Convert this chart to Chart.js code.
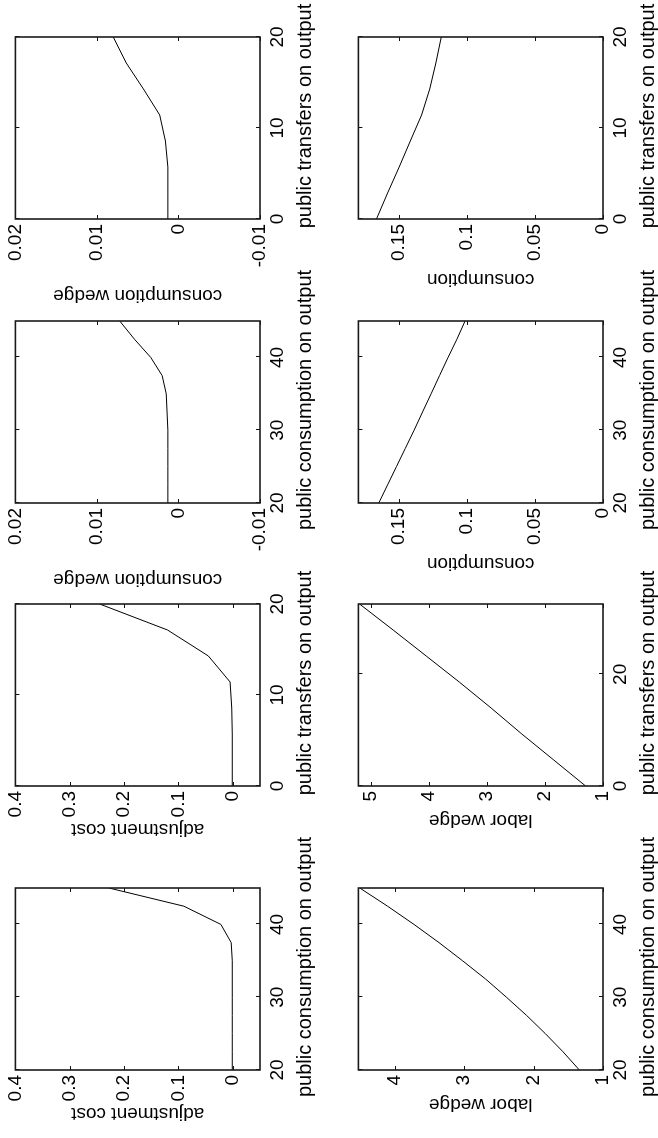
<!DOCTYPE html>
<html>
<head>
<meta charset="utf-8">
<script src="https://cdn.jsdelivr.net/npm/chart.js@4.4.1/dist/chart.umd.min.js"></script>
<style>
  html, body { margin: 0; padding: 0; background: #fff; overflow: hidden; }
  #page { position: relative; width: 658px; height: 1138px; overflow: hidden; background: #fff; }
  /* the figure is laid out landscape and turned a quarter turn counter-clockwise */
  #fig { position: absolute; left: 0; top: 0; width: 1138px; height: 658px;
         transform-origin: 0 0; transform: translateY(1138px) rotate(-90deg); }
  #fig canvas { position: absolute; }
</style>
</head>
<body>
<div id="page"><div id="fig"></div></div>
<script>
'use strict'

// x values
const govCons = [20, 22.5, 25, 27.5, 30, 32.5, 35, 37.5, 40, 42.5, 45];
const transfers = [0, 2.86, 5.71, 8.57, 11.43, 14.29, 17.14, 20];
const transfersLabor = [0, 4.66, 9.31, 13.97, 18.63, 23.29, 27.94, 32.6];

// series
const adjCostG = [0.001, 0.001, 0.001, 0.001, 0.001, 0.001, 0.001, 0.003, 0.022, 0.09, 0.228];
const adjCostT = [0.001, 0.001, 0.001, 0.002, 0.005, 0.045, 0.12, 0.245];
const wedgeG = [0.0013, 0.0013, 0.0013, 0.0013, 0.0013, 0.0014, 0.0015, 0.002, 0.0034, 0.0054, 0.0072];
const wedgeT = [0.0013, 0.0013, 0.0013, 0.0016, 0.0023, 0.0043, 0.0064, 0.008];
const laborG = [1.34, 1.575, 1.83, 2.1, 2.39, 2.69, 3.02, 3.36, 3.72, 4.1, 4.5];
const laborT = [1.3, 1.85, 2.4, 2.93, 3.48, 4.05, 4.62, 5.2];
const consG = [0.165, 0.1585, 0.152, 0.1455, 0.139, 0.1328, 0.1265, 0.1203, 0.114, 0.1075, 0.1015];
const consT = [0.1667, 0.1585, 0.15, 0.1418, 0.1335, 0.1275, 0.123, 0.119];

// tick labels
const gTicks = [20, 30, 40];
const tTicks = [0, 10, 20];
const tLaborTicks = [0, 20];
const adjTicks = [0, 0.1, 0.2, 0.3, 0.4];
const wedgeTicks = [-0.01, 0, 0.01, 0.02];
const laborGTicks = [1, 2, 3, 4];
const laborTTicks = [1, 2, 3, 4, 5];
const consTicks = [0, 0.05, 0.1, 0.15];

const xTitleG = 'public consumption on output';
const xTitleT = 'public transfers on output';

const FONT = '"Liberation Sans", Arial, Helvetica, sans-serif';
const FONT_SIZE = 19;
const X_TITLE_SIZE = 20;
const BOX_W = 182, BOX_H = 247;
const colLeft = [68, 352, 635, 919];
const rowTop = [13, 356];
const PAD_T = 14, PAD_R = 60, X_AXIS_H = 56;

const panels = [
    { col: 0, row: 0, xs: govCons, ys: adjCostG, xMin: 20, xMax: 45, xTicks: gTicks, xTitle: xTitleG,
      yMin: -0.05, yMax: 0.4, yTicks: adjTicks, yTitle: 'adjustment cost', yAxisW: 55 },
    { col: 1, row: 0, xs: transfers, ys: adjCostT, xMin: 0, xMax: 20, xTicks: tTicks, xTitle: xTitleT,
      yMin: -0.05, yMax: 0.4, yTicks: adjTicks, yTitle: 'adjustment cost', yAxisW: 55 },
    { col: 2, row: 0, xs: govCons, ys: wedgeG, xMin: 20, xMax: 45, xTicks: gTicks, xTitle: xTitleG,
      yMin: -0.01, yMax: 0.02, yTicks: wedgeTicks, yTitle: 'consumption wedge', yAxisW: 88 },
    { col: 3, row: 0, xs: transfers, ys: wedgeT, xMin: 0, xMax: 20, xTicks: tTicks, xTitle: xTitleT,
      yMin: -0.01, yMax: 0.02, yTicks: wedgeTicks, yTitle: 'consumption wedge', yAxisW: 88 },
    { col: 0, row: 1, xs: govCons, ys: laborG, xMin: 20, xMax: 45, xTicks: gTicks, xTitle: xTitleG,
      yMin: 1, yMax: 4.52, yTicks: laborGTicks, yTitle: 'labor wedge', yAxisW: 46 },
    { col: 1, row: 1, xs: transfersLabor, ys: laborT, xMin: 0, xMax: 32.6, xTicks: tLaborTicks, xTitle: xTitleT,
      yMin: 1, yMax: 5.22, yTicks: laborTTicks, yTitle: 'labor wedge', yAxisW: 46 },
    { col: 2, row: 1, xs: govCons, ys: consG, xMin: 20, xMax: 45, xTicks: gTicks, xTitle: xTitleG,
      yMin: 0, yMax: 0.18, yTicks: consTicks, yTitle: 'consumption', yAxisW: 72 },
    { col: 3, row: 1, xs: transfers, ys: consT, xMin: 0, xMax: 20, xTicks: tTicks, xTitle: xTitleT,
      yMin: 0, yMax: 0.18, yTicks: consTicks, yTitle: 'consumption', yAxisW: 72 }
];

// box round the plot area with short inward ticks on all four sides
const framePlugin = {
    id: 'frame',
    afterDatasetsDraw(chart) {
        const { ctx, chartArea: a, scales } = chart;
        const len = 4;
        ctx.save();
        ctx.strokeStyle = '#111';
        ctx.lineWidth = 1;
        ctx.beginPath();
        scales.x.ticks.forEach(t => {
            const px = Math.round(scales.x.getPixelForValue(t.value)) + 0.5;
            ctx.moveTo(px, a.bottom); ctx.lineTo(px, a.bottom - len);
            ctx.moveTo(px, a.top); ctx.lineTo(px, a.top + len);
        });
        scales.y.ticks.forEach(t => {
            const py = Math.round(scales.y.getPixelForValue(t.value)) + 0.5;
            ctx.moveTo(a.left, py); ctx.lineTo(a.left + len, py);
            ctx.moveTo(a.right, py); ctx.lineTo(a.right - len, py);
        });
        ctx.stroke();
        ctx.lineWidth = 1.6;
        ctx.strokeStyle = '#1a1a1a';
        ctx.strokeRect(a.left, a.top, a.right - a.left, a.bottom - a.top);
        ctx.restore();
    }
};

// x axis title, drawn by hand so it is not squeezed to the plot width
const xTitlePlugin = {
    id: 'xTitle',
    afterDraw(chart, args, opts) {
        const { ctx, chartArea: a } = chart;
        ctx.save();
        ctx.font = X_TITLE_SIZE + 'px ' + FONT;
        ctx.fillStyle = '#000';
        ctx.textAlign = 'center';
        ctx.textBaseline = 'middle';
        ctx.fillText(opts.text, (a.left + a.right) / 2 + 12, a.bottom + 45);
        ctx.restore();
    }
};

const fig = document.getElementById('fig');

panels.forEach(p => {
    const canvas = document.createElement('canvas');
    canvas.width = p.yAxisW + BOX_W + PAD_R;
    canvas.height = PAD_T + BOX_H + X_AXIS_H;
    canvas.style.left = (colLeft[p.col] - p.yAxisW) + 'px';
    canvas.style.top = (rowTop[p.row] - PAD_T) + 'px';
    fig.appendChild(canvas);

    const font = { family: FONT, size: FONT_SIZE };

    new Chart(canvas, {
        type: 'line',
        data: {
            datasets: [{
                data: p.xs.map((x, i) => ({ x: x, y: p.ys[i] })),
                borderColor: '#000',
                borderWidth: 1,
                pointRadius: 0,
                tension: 0,
                fill: false
            }]
        },
        options: {
            responsive: false,
            animation: false,
            layout: { padding: { top: PAD_T, right: PAD_R, left: 0, bottom: 0 } },
            plugins: {
                legend: { display: false },
                tooltip: { enabled: false },
                xTitle: { text: p.xTitle }
            },
            scales: {
                x: {
                    type: 'linear',
                    min: p.xMin,
                    max: p.xMax,
                    grid: { display: false, drawTicks: false },
                    border: { display: false },
                    afterBuildTicks: s => { s.ticks = p.xTicks.map(v => ({ value: v })); },
                    afterFit: s => { s.height = X_AXIS_H; },
                    ticks: { padding: 6, color: '#000', font: font, maxRotation: 0, autoSkip: false,
                             callback: v => String(v) }
                },
                y: {
                    type: 'linear',
                    min: p.yMin,
                    max: p.yMax,
                    grid: { display: false, drawTicks: false },
                    border: { display: false },
                    afterBuildTicks: s => { s.ticks = p.yTicks.map(v => ({ value: v })); },
                    afterFit: s => { s.width = p.yAxisW; },
                    ticks: { padding: 5, color: '#000', font: font, autoSkip: false,
                             callback: v => String(v) },
                    title: { display: true, text: p.yTitle, color: '#000', font: font, padding: 0 }
                }
            }
        },
        plugins: [framePlugin, xTitlePlugin]
    });
});
</script>
</body>
</html>
